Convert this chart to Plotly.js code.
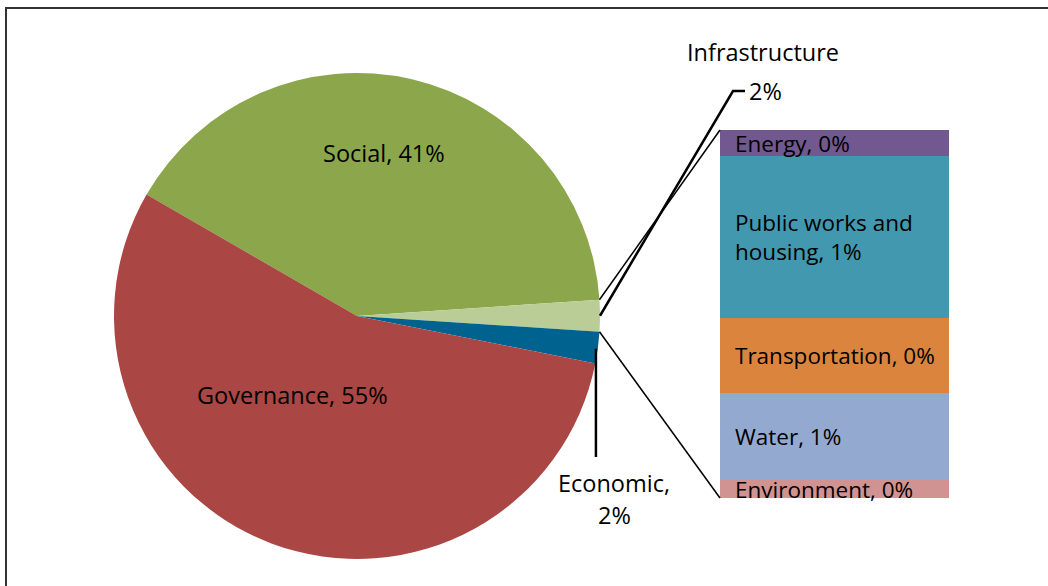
<!DOCTYPE html>
<html>
<head>
<meta charset="utf-8">
<script src="https://cdn.plot.ly/plotly-3.0.1.min.js"></script>
<style>html,body{margin:0;padding:0;background:#fff;}#chart{width:1048px;height:586px;}</style>
</head>
<body>
<div id="chart"></div>
<script>
// ---- data ----
var pieLabels = ["Social", "Infrastructure", "Economic", "Governance"];
var pieColors = ["#8BA64B", "#BBCD97", "#00638F", "#AA4643"];
var infraParts = ["Environment", "Water", "Transportation", "Public works and housing", "Energy"];
var infraValues = [0.10, 0.50, 0.43, 0.92, 0.15];
var infraColors = ["#D19392", "#93A9CF", "#DB843D", "#4198AF", "#71588F"];
var infraTextLabels = ["Environment", "Water", "Transportation", "Public works and<br>housing", "Energy"];
var infraTotal = infraValues.reduce(function(a, b){ return a + b; }, 0);
var pieValues = [40.6, infraTotal, 2.1, 55.2];

// ---- geometry helpers ----
var W = 1048, H = 586;
function X(px){ return px / W; }
function Y(py){ return 1 - py / H; }
var cx = 357, cy = 316, R = 243, rotation = -60;
var fontFam = "'Open Sans', 'Noto Sans', sans-serif";
var pieFont = 23.5, barFont = 22.5;

var barLeft = 720, barRight = 949, barTop = 130, barBottom = 498;

// slice angles (clockwise from 12 o'clock)
var total = pieValues.reduce(function(a, b){ return a + b; }, 0);
var angles = [];
var acc = rotation;
pieValues.forEach(function(v){ var a0 = acc; acc += v / total * 360; angles.push([a0, acc]); });
function edgePt(deg, r){
  var t = deg * Math.PI / 180;
  return [cx + r * Math.sin(t), cy - r * Math.cos(t)];
}
var infA = angles[1], ecoA = angles[2];
var infTop = edgePt(infA[0], R), infBot = edgePt(infA[1], R);
var infMid = edgePt((infA[0] + infA[1]) / 2, R);
var ecoMid = edgePt((ecoA[0] + ecoA[1]) / 2, R);

var traces = [{
  type: "pie",
  labels: pieLabels,
  values: pieValues,
  sort: false,
  direction: "clockwise",
  rotation: rotation,
  marker: {colors: pieColors, line: {width: 0}},
  textinfo: "none",
  hoverinfo: "label+percent",
  domain: {x: [X(cx - R), X(cx + R)], y: [Y(cy + R), Y(cy - R)]},
  showlegend: false
}];

infraParts.forEach(function(name, i){
  traces.push({
    type: "bar",
    x: [0],
    y: [infraValues[i]],
    width: [1],
    name: name,
    marker: {color: infraColors[i], line: {width: 0}},
    xaxis: "x2",
    yaxis: "y2",
    hoverinfo: "name+y",
    showlegend: false
  });
});

var annotations = [];
var cum = 0;
infraParts.forEach(function(name, i){
  var mid = cum + infraValues[i] / 2;
  cum += infraValues[i];
  annotations.push({
    xref: "x2", yref: "y2", x: -0.5, y: mid, xshift: 13,
    xanchor: "left", yanchor: "middle", align: "left",
    text: infraTextLabels[i] + ", " + Math.round(infraValues[i]) + "%",
    showarrow: false, font: {family: fontFam, size: barFont, color: "#000"}
  });
});
function pct(v){ return Math.round(v / total * 100) + "%"; }
function lab(px, py, txt, anchor){
  annotations.push({xref: "paper", yref: "paper", x: X(px), y: Y(py), xanchor: anchor || "center", yanchor: "middle",
    text: txt, showarrow: false, font: {family: fontFam, size: pieFont, color: "#000"}});
}
lab(384, 153, pieLabels[0] + ", " + pct(pieValues[0]));
lab(292, 395, pieLabels[3] + ", " + pct(pieValues[3]));
lab(614, 483, pieLabels[2] + ",");
lab(614, 515, pct(pieValues[2]));
lab(763, 52, pieLabels[1]);
lab(747, 91, pct(pieValues[1]), "left");

function P(pt){ return X(pt[0]) + "," + Y(pt[1]); }
var shapes = [
  // frame
  {type: "rect", xref: "paper", yref: "paper", x0: X(6), y0: Y(600), x1: X(1060), y1: Y(8),
   line: {color: "#333", width: 2}, fillcolor: "rgba(0,0,0,0)"},
  // connectors pie -> bar
  {type: "line", xref: "paper", yref: "paper", x0: X(infTop[0]), y0: Y(infTop[1]), x1: X(barLeft), y1: Y(barTop),
   line: {color: "#000", width: 1.5}},
  {type: "line", xref: "paper", yref: "paper", x0: X(infBot[0]), y0: Y(infBot[1]), x1: X(barLeft), y1: Y(barBottom),
   line: {color: "#000", width: 1.5}},
  // infrastructure leader
  {type: "path", xref: "paper", yref: "paper",
   path: "M" + P(infMid) + " L" + X(733) + "," + Y(91) + " L" + X(745) + "," + Y(91),
   line: {color: "#000", width: 2.5}},
  // economic leader
  {type: "line", xref: "paper", yref: "paper", x0: X(ecoMid[0] - 2), y0: Y(ecoMid[1] + 1), x1: X(ecoMid[0] - 2), y1: Y(457),
   line: {color: "#000", width: 2.5}}
];

var layout = {
  width: W, height: H,
  margin: {l: 0, r: 0, t: 0, b: 0},
  paper_bgcolor: "#fff", plot_bgcolor: "rgba(0,0,0,0)",
  barmode: "stack", bargap: 0,
  showlegend: false,
  xaxis: {visible: false},
  yaxis: {visible: false},
  xaxis2: {domain: [X(barLeft), X(barRight)], range: [-0.5, 0.5], visible: false, fixedrange: true, anchor: "y2"},
  yaxis2: {domain: [Y(barBottom), Y(barTop)], range: [0, infraTotal], visible: false, fixedrange: true, anchor: "x2"},
  annotations: annotations,
  shapes: shapes,
  font: {family: fontFam, color: "#000"}
};

Plotly.newPlot("chart", traces, layout, {displayModeBar: false, staticPlot: true});
</script>
</body>
</html>
